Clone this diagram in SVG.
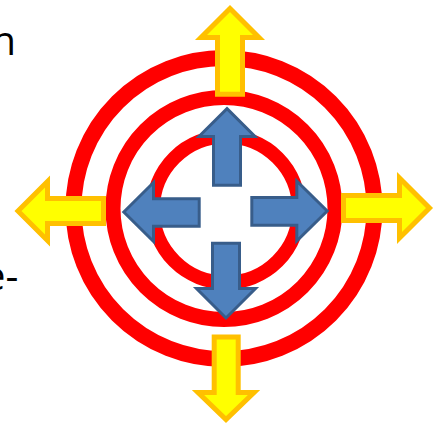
<svg xmlns="http://www.w3.org/2000/svg" width="440" height="424" viewBox="0 0 440 424">
  <style>
    .ring { fill: none; stroke: #FF0000; }
    .ya { fill: #FFFF00; stroke: #FFC000; stroke-width: 5; stroke-linejoin: miter; stroke-miterlimit: 10; }
    .ba { fill: #4F81BD; stroke: #385D8A; stroke-width: 3; stroke-linejoin: miter; stroke-miterlimit: 10; }
    .txt { font-family: "Open Sans", "Liberation Sans", sans-serif; font-size: 40px; fill: #000000; }
  </style>
  <rect width="440" height="424" fill="#FFFFFF"/>
  <g id="text-fragments">
    <text class="txt" x="16" y="55" text-anchor="end">n</text>
    <text class="txt" x="18.3" y="290" text-anchor="end">e-</text>
  </g>
  <g id="rings">
    <circle id="ring-outer" class="ring" cx="224" cy="208.5" r="150.5" stroke-width="16"/>
    <circle id="ring-middle" class="ring" cx="224" cy="208.5" r="111" stroke-width="15"/>
    <circle id="ring-inner" class="ring" cx="226" cy="209.5" r="73" stroke-width="14"/>
  </g>
  <g id="yellow-arrows">
    <polygon id="yellow-up" class="ya" points="230,8.5 259,37.5 242.5,37.5 242.5,94.2 217.5,94.2 217.5,37.5 201,37.5"/>
    <polygon id="yellow-down" class="ya" points="214.2,337 238.2,337 238.2,392.5 254,392.5 226,419.5 198,392.5 214.2,392.5"/>
    <polygon id="yellow-left" class="ya" points="18,211 47.5,181.5 47.5,198.5 103.5,198.5 103.5,223.5 47.5,223.5 47.5,240.5"/>
    <polygon id="yellow-right" class="ya" points="343.5,195.5 399.5,195.5 399.5,178 429.5,208 399.5,238 399.5,220.5 343.5,220.5"/>
  </g>
  <g id="blue-arrows">
    <polygon id="blue-up" class="ba" points="227,108.6 255,136.5 240.5,136.5 240.5,185.2 213.5,185.2 213.5,136.5 199,136.5"/>
    <polygon id="blue-down" class="ba" points="212.5,243.2 239.5,243.2 239.5,288.5 255.5,288.5 226,318 196.5,288.5 212.5,288.5"/>
    <polygon id="blue-left" class="ba" points="123.8,212 153.5,182.5 153.5,198.8 199.2,198.8 199.2,226.3 153.5,226.3 153.5,241.5"/>
    <polygon id="blue-right" class="ba" points="251.8,197.5 296.8,197.5 296.8,181 327.2,211 296.8,241 296.8,225.2 251.8,225.2"/>
  </g>
</svg>
